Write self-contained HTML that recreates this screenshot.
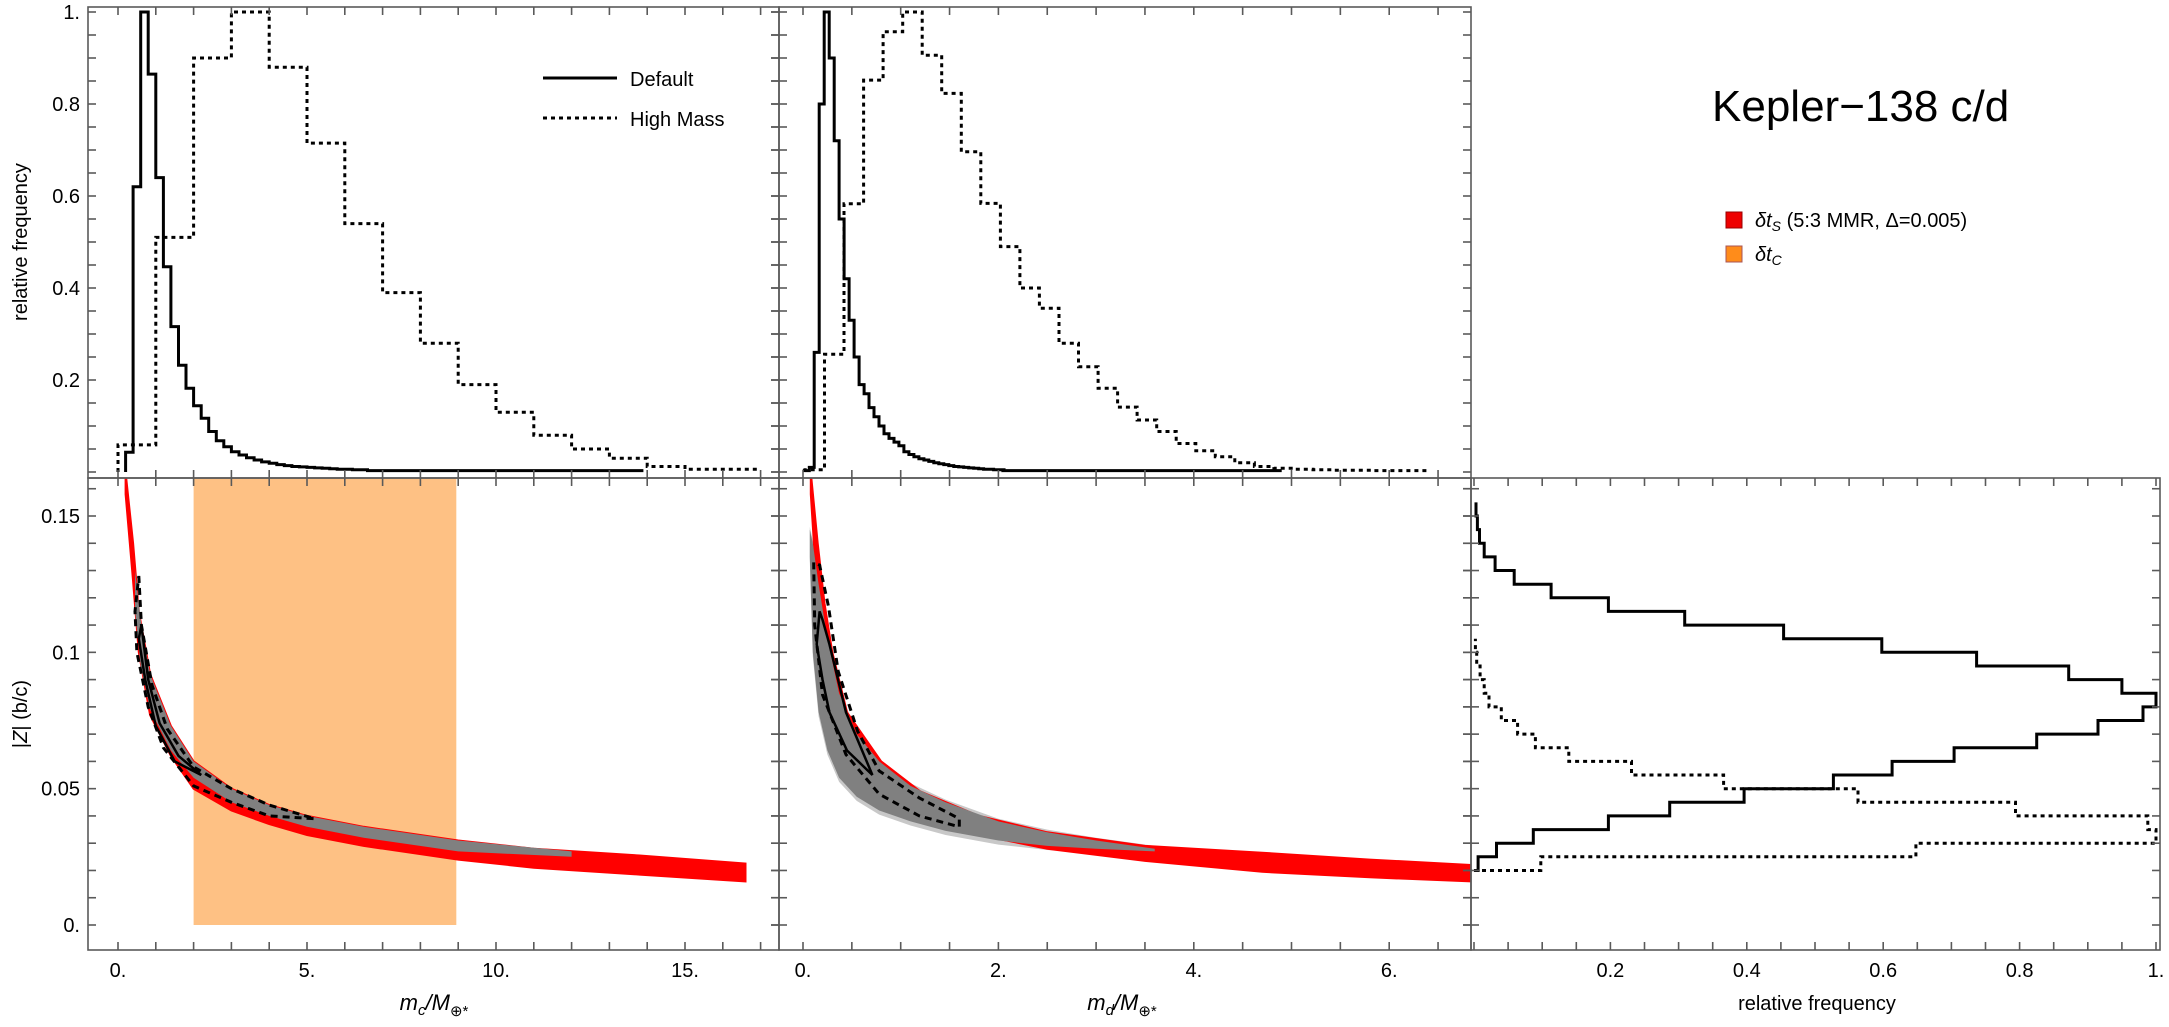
<!DOCTYPE html>
<html><head><meta charset="utf-8">
<style>
html,body{margin:0;padding:0;background:#fff;}
svg{display:block;font-family:"Liberation Sans",Arial,sans-serif;}
</style></head>
<body>
<svg id="chart" width="2169" height="1027" viewBox="0 0 2169 1027" xmlns="http://www.w3.org/2000/svg">
  <g id="marks"></g>
  <g id="frames"></g>
  <g id="labels">
    <text transform="translate(27,242) rotate(-90)" text-anchor="middle" font-size="20">relative frequency</text>
    <text transform="translate(27,714) rotate(-90)" text-anchor="middle" font-size="20">|<tspan font-style="italic">Z</tspan>| (b/c)</text>
    <text x="434" y="1010" text-anchor="middle" font-size="22"><tspan font-style="italic">m</tspan><tspan font-style="italic" font-size="15" dy="5">c</tspan><tspan font-style="italic" dy="-5">/M</tspan><tspan font-size="15" dy="6">⊕*</tspan></text>
    <text x="1122" y="1010" text-anchor="middle" font-size="22"><tspan font-style="italic">m</tspan><tspan font-style="italic" font-size="15" dy="5">d</tspan><tspan font-style="italic" dy="-5">/M</tspan><tspan font-size="15" dy="6">⊕*</tspan></text>
    <text x="1817" y="1010" text-anchor="middle" font-size="20">relative frequency</text>
    <text x="1712" y="121" font-size="44">Kepler−138 c/d</text>
    <g>
      <line x1="543" y1="78" x2="617" y2="78" stroke="#000" stroke-width="3"/>
      <text x="630" y="86" font-size="20">Default</text>
      <line x1="543" y1="118" x2="617" y2="118" stroke="#000" stroke-width="3" stroke-dasharray="4,4"/>
      <text x="630" y="126" font-size="20">High Mass</text>
    </g>
    <g>
      <rect x="1726" y="212" width="16" height="16" fill="#ee0000" stroke="#900" stroke-width="1"/>
      <text x="1755" y="227" font-size="20"><tspan font-style="italic">δt</tspan><tspan font-style="italic" font-size="14" dy="4">S</tspan><tspan dy="-4"> (5:3 MMR, Δ=0.005)</tspan></text>
    </g>
    <g>
      <rect x="1726" y="246" width="16" height="16" fill="#ff8c1a" stroke="#a55" stroke-width="1"/>
      <text x="1755" y="261" font-size="20"><tspan font-style="italic">δt</tspan><tspan font-style="italic" font-size="14" dy="4">C</tspan></text>
    </g>
  </g>
</svg>
<script>
// ---------- data ----------
const mcDefaultStart = 0.2, mcDefaultWidth = 0.2;
const mcDefaultHeights = [0.043,0.62,1.0,0.865,0.64,0.446,0.316,0.232,0.182,0.144,0.117,0.088,0.068,0.055,0.044,0.037,0.031,0.026,0.022,0.019,0.016,0.014,0.012,0.011,0.010,0.009,0.008,0.007,0.006,0.006,0.005,0.005];
const mcDefaultTail = [6.6, 13.9, 0.003];
const mcHighStart = 0.0, mcHighWidth = 1.0;
const mcHighHeights = [0.059,0.51,0.9,1.0,0.88,0.715,0.54,0.39,0.28,0.19,0.13,0.08,0.05,0.03,0.012,0.006,0.006];
const mdDefaultStart = 0.013, mdDefaultWidth = 0.051;
const mdDefaultHeights = [0.003,0.01,0.26,0.80,1.0,0.90,0.72,0.55,0.42,0.33,0.25,0.19,0.17,0.14,0.12,0.10,0.083,0.073,0.065,0.057,0.044,0.038,0.033,0.029,0.026,0.023,0.02,0.018,0.016,0.014,0.012,0.011,0.01,0.009,0.008,0.007,0.006,0.006,0.005,0.005];
const mdDefaultTail = [2.05, 4.9, 0.003];
const mdHighStart = 0.02, mdHighWidth = 0.2;
const mdHighHeights = [0.005,0.256,0.583,0.852,0.957,1.0,0.906,0.823,0.696,0.584,0.49,0.4,0.356,0.28,0.229,0.182,0.141,0.113,0.088,0.062,0.046,0.033,0.02,0.012,0.008,0.006,0.005,0.004,0.004,0.003,0.003,0.003];
const zStart = 0.02, zWidth = 0.005;
const zDefaultFreq = [0.006,0.033,0.087,0.197,0.287,0.396,0.527,0.613,0.704,0.825,0.915,0.981,1.0,0.95,0.872,0.737,0.598,0.454,0.309,0.197,0.113,0.059,0.031,0.015,0.008,0.005,0.003];
const zHighFreq = [0.098,0.648,1.0,0.988,0.794,0.563,0.366,0.231,0.139,0.09,0.064,0.04,0.022,0.015,0.009,0.004,0.002];
const deltaTcRange = [2.0, 8.95];
const p1RedM  = [0.2,0.4,0.55,0.85,1.4,2.0,3.0,4.0,5.0,6.5,9.0,11,13.8,16.6];
const p1RedLo = [0.158,0.126,0.1,0.077,0.062,0.050,0.042,0.037,0.033,0.029,0.024,0.021,0.0185,0.016];
const p1RedHi = [0.166,0.14,0.115,0.092,0.073,0.06,0.05,0.044,0.040,0.036,0.031,0.028,0.0255,0.0225];
const p1GrayM  = [0.45,0.6,0.85,1.4,2,3,4,5,6.5,9,12];
const p1GrayLo = [0.115,0.095,0.079,0.064,0.054,0.045,0.040,0.036,0.032,0.027,0.025];
const p1GrayHi = [0.13,0.112,0.092,0.073,0.06,0.05,0.044,0.040,0.036,0.031,0.027];
const p1SolidM = [0.62,0.8,1.1,1.6,2.2,1.5,1.0,0.72,0.55];
const p1SolidZ = [0.11,0.09,0.074,0.062,0.055,0.06,0.073,0.09,0.105];
const p1DashM = [0.55,0.62,0.9,1.3,2,3,4,5.2,4,3,2,1.2,0.8,0.5,0.45];
const p1DashZ = [0.128,0.11,0.088,0.072,0.058,0.05,0.044,0.039,0.040,0.045,0.051,0.065,0.08,0.1,0.115];
const p2RedM  = [0.08,0.15,0.22,0.3,0.45,0.8,1.2,1.8,2.5,3.5,4.7,5.8,6.84];
const p2RedLo = [0.158,0.118,0.096,0.082,0.066,0.049,0.040,0.033,0.028,0.0235,0.0195,0.0175,0.016];
const p2RedHi = [0.166,0.14,0.118,0.1,0.078,0.06,0.049,0.040,0.034,0.029,0.0265,0.024,0.022];
const p2GrayM  = [0.07,0.1,0.16,0.25,0.37,0.55,0.78,1.1,1.46,2.0,2.5,3.0,3.6];
const p2GrayLo = [0.135,0.1,0.078,0.064,0.054,0.047,0.042,0.038,0.0345,0.031,0.029,0.028,0.027];
const p2GrayHi = [0.145,0.14,0.125,0.105,0.085,0.07,0.06,0.051,0.045,0.038,0.034,0.031,0.028];
const p2SolidM = [0.17,0.14,0.2,0.27,0.45,0.71,0.44,0.27,0.2];
const p2SolidZ = [0.115,0.103,0.09,0.078,0.064,0.055,0.078,0.103,0.112];
const p2DashM = [0.11,0.12,0.2,0.44,0.78,1.19,1.6,1.6,1.19,0.78,0.56,0.36,0.26,0.17];
const p2DashZ = [0.133,0.11,0.0845,0.0625,0.048,0.040,0.036,0.039,0.0466,0.0565,0.071,0.093,0.117,0.132];
const p1XLabels = [0,5,10,15], p1XText = ["0.","5.","10.","15."];
const p2XLabels = [0,2,4,6], p2XText = ["0.","2.","4.","6."];
const p3XLabels = [0.2,0.4,0.6,0.8,1.0], p3XText = ["0.2","0.4","0.6","0.8","1."];
const topYLabels = [0.2,0.4,0.6,0.8,1.0], topYText = ["0.2","0.4","0.6","0.8","1."];
const botYLabels = [0,0.05,0.1,0.15], botYText = ["0.","0.05","0.1","0.15"];

// ---------- scales ----------
function lin(d0,d1,r0,r1){return v=>r0+(v-d0)*(r1-r0)/(d1-d0);}
const x1 = lin(0,15,118,685), x2 = lin(0,6,803,1389.2), x3 = lin(0,1,1474,2156);
const yT = lin(0,1,472,12), yB = lin(0,0.15,925,516);
const L = {p1:[88,779], p2:[779,1471], p3:[1471,2160], top:[7,478], bot:[478,950]};
const NS = "http://www.w3.org/2000/svg";
const marks = document.getElementById('marks'), frames = document.getElementById('frames'), labels = document.getElementById('labels');
function mk(tag, attrs, parent){const e=document.createElementNS(NS,tag);for(const k in attrs)e.setAttribute(k,attrs[k]);parent.appendChild(e);return e;}

const defs = mk('defs',{},document.getElementById('chart'));
[['c1',L.p1,L.top],['c2',L.p2,L.top],['c4',L.p1,L.bot],['c5',L.p2,L.bot],['c6',L.p3,L.bot]].forEach(([id,xr,yr])=>{
  const cp=mk('clipPath',{id:id},defs); mk('rect',{x:xr[0],y:yr[0],width:xr[1]-xr[0],height:yr[1]-yr[0]},cp);
});

function stepPath(start,width,heights,xs,ys,tail){
  let d = `M${xs(start).toFixed(1)},${ys(0).toFixed(1)}`;
  heights.forEach((h,i)=>{
    const a=start+i*width, b=a+width;
    d += ` L${xs(a).toFixed(1)},${ys(h).toFixed(1)} L${xs(b).toFixed(1)},${ys(h).toFixed(1)}`;
  });
  if(tail){ d += ` L${xs(tail[0]).toFixed(1)},${ys(tail[2]).toFixed(1)} L${xs(tail[1]).toFixed(1)},${ys(tail[2]).toFixed(1)}`; }
  return d;
}
function stepPathH(start,width,freqs,xs,ys){
  let d = `M${xs(0).toFixed(1)},${ys(start).toFixed(1)}`;
  freqs.forEach((f,i)=>{
    const a=start+i*width, b=a+width;
    d += ` L${xs(f).toFixed(1)},${ys(a).toFixed(1)} L${xs(f).toFixed(1)},${ys(b).toFixed(1)}`;
  });
  return d;
}
function bandPath(ms,lo,hi,xs,ys){
  let pts = ms.map((m,i)=>`${xs(m).toFixed(1)},${ys(hi[i]).toFixed(1)}`);
  for(let i=ms.length-1;i>=0;i--) pts.push(`${xs(ms[i]).toFixed(1)},${ys(lo[i]).toFixed(1)}`);
  return 'M'+pts.join(' L')+' Z';
}
function loopPath(ms,zs,xs,ys){
  return 'M'+ms.map((m,i)=>`${xs(m).toFixed(1)},${ys(zs[i]).toFixed(1)}`).join(' L')+' Z';
}

let e;
e = mk('path',{d:stepPath(mcHighStart,mcHighWidth,mcHighHeights,x1,yT),fill:'none',stroke:'#000','stroke-width':3,'stroke-dasharray':'4,4','clip-path':'url(#c1)'},marks);


e = mk('path',{d:stepPath(mcDefaultStart,mcDefaultWidth,mcDefaultHeights,x1,yT,mcDefaultTail),fill:'none',stroke:'#000','stroke-width':3,'clip-path':'url(#c1)'},marks);


e = mk('path',{d:stepPath(mdHighStart,mdHighWidth,mdHighHeights,x2,yT),fill:'none',stroke:'#000','stroke-width':3,'stroke-dasharray':'4,4','clip-path':'url(#c2)'},marks);


e = mk('path',{d:stepPath(mdDefaultStart,mdDefaultWidth,mdDefaultHeights,x2,yT,mdDefaultTail),fill:'none',stroke:'#000','stroke-width':3,'clip-path':'url(#c2)'},marks);



e = mk('rect',{x:x1(deltaTcRange[0]),y:L.bot[0],width:x1(deltaTcRange[1])-x1(deltaTcRange[0]),height:yB(0)-L.bot[0],fill:'#fec184'},marks);


e = mk('path',{d:bandPath(p1RedM,p1RedLo,p1RedHi,x1,yB),fill:'#ff0000',stroke:'#ff0000','stroke-width':2,'clip-path':'url(#c4)'},marks);


e = mk('path',{d:bandPath(p1GrayM,p1GrayLo,p1GrayHi,x1,yB),fill:'#808080','clip-path':'url(#c4)'},marks);


e = mk('path',{d:loopPath(p1DashM,p1DashZ,x1,yB),fill:'none',stroke:'#000','stroke-width':3,'stroke-dasharray':'7,5','clip-path':'url(#c4)'},marks);


e = mk('path',{d:loopPath(p1SolidM,p1SolidZ,x1,yB),fill:'none',stroke:'#000','stroke-width':2.5,'clip-path':'url(#c4)'},marks);



e = mk('path',{d:bandPath(p2GrayM,p2GrayLo.map(v=>v-0.0015),p2GrayHi.map(v=>v+0.001),x2,yB),fill:'#c8c8c8','clip-path':'url(#c5)'},marks);


e = mk('path',{d:bandPath(p2RedM,p2RedLo,p2RedHi,x2,yB),fill:'#ff0000',stroke:'#ff0000','stroke-width':2,'clip-path':'url(#c5)'},marks);


e = mk('path',{d:bandPath(p2GrayM,p2GrayLo,p2GrayHi,x2,yB),fill:'#808080','clip-path':'url(#c5)'},marks);


e = mk('path',{d:loopPath(p2DashM,p2DashZ,x2,yB),fill:'none',stroke:'#000','stroke-width':3,'stroke-dasharray':'7,5','clip-path':'url(#c5)'},marks);


e = mk('path',{d:loopPath(p2SolidM,p2SolidZ,x2,yB),fill:'none',stroke:'#000','stroke-width':2.5,'clip-path':'url(#c5)'},marks);



e = mk('path',{d:stepPathH(zStart,zWidth,zHighFreq,x3,yB),fill:'none',stroke:'#000','stroke-width':3,'stroke-dasharray':'4,4','clip-path':'url(#c6)'},marks);


e = mk('path',{d:stepPathH(zStart,zWidth,zDefaultFreq,x3,yB),fill:'none',stroke:'#000','stroke-width':3,'clip-path':'url(#c6)'},marks);



const FC = '#5a5a5a', TL = 8;
function line(a,b,c,d,parent){return mk('line',{x1:a,y1:b,x2:c,y2:d,stroke:FC,'stroke-width':1.6},parent||frames);}
function frameRect(xr,yr,name){
  const r = mk('rect',{x:xr[0],y:yr[0],width:xr[1]-xr[0],height:yr[1]-yr[0],fill:'none',stroke:FC,'stroke-width':1.6},frames);
  
  
}
frameRect(L.p1,L.top,'top-left-frame');
frameRect(L.p2,L.top,'top-middle-frame');
frameRect(L.p1,L.bot,'bottom-left-frame');
frameRect(L.p2,L.bot,'bottom-middle-frame');
frameRect(L.p3,L.bot,'bottom-right-frame');

function xTicks(xs,from,to,step,xr,yTop,yBot){
  for(let v=from; v<=to+1e-9; v+=step){
    const X = xs(v); if(X<xr[0]+1||X>xr[1]-1) continue;
    line(X,yTop,X,yTop+TL); line(X,yBot,X,yBot-TL);
  }
}
function yTicks(ys,from,to,step,yr,xl,xr,both){
  for(let v=from; v<=to+1e-9; v+=step){
    const Y = ys(v); if(Y<yr[0]+1||Y>yr[1]-1) continue;
    line(xl,Y,xl+TL,Y); line(xr,Y,xr-TL,Y);
    if(both) line(xl,Y,xl-TL,Y);
  }
}
xTicks(x1,0,17,1,L.p1,L.top[0],L.top[1]);
xTicks(x2,0,6.5,0.5,L.p2,L.top[0],L.top[1]);
xTicks(x1,0,17,1,L.p1,L.bot[0],L.bot[1]);
xTicks(x2,0,6.5,0.5,L.p2,L.bot[0],L.bot[1]);
xTicks(x3,0,1,0.05,L.p3,L.bot[0],L.bot[1]);
yTicks(yT,0,1,0.05,L.top,L.p1[0],L.p1[1],false);
yTicks(yT,0,1,0.05,L.top,L.p2[0],L.p2[1],true);
yTicks(yB,0,0.16,0.01,L.bot,L.p1[0],L.p1[1],false);
yTicks(yB,0,0.16,0.01,L.bot,L.p2[0],L.p2[1],true);
yTicks(yB,0,0.16,0.01,L.bot,L.p3[0],L.p3[1],true);

function xLab(vals,txt,xs,name){
  vals.forEach((v,i)=>{
    const t = mk('text',{x:xs(v),y:977,'text-anchor':'middle','font-size':20},labels);
    t.textContent = txt[i];
    
    
  });
}
function yLab(vals,txt,ys,name){
  vals.forEach((v,i)=>{
    const t = mk('text',{x:80,y:ys(v)+7,'text-anchor':'end','font-size':20},labels);
    t.textContent = txt[i];
    
    
  });
}
xLab(p1XLabels,p1XText,x1,'mc-tick-label');
xLab(p2XLabels,p2XText,x2,'md-tick-label');
xLab(p3XLabels,p3XText,x3,'relfreq-tick-label');
yLab(topYLabels,topYText,yT,'top-y-tick-label');
yLab(botYLabels,botYText,yB,'z-tick-label');
</script>
</body></html>
